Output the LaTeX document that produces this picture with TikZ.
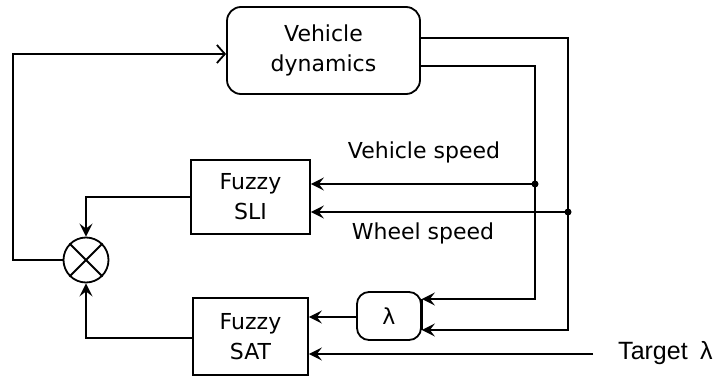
\documentclass[tikz,border=0pt]{standalone}
\usepackage{fontspec}
\setmainfont{DejaVu Sans}
\newfontfamily\tgtfont{Liberation Sans}
\usetikzlibrary{arrows.meta,calc}
\begin{document}
\begin{tikzpicture}[x=1pt,y=-1pt,line width=1.8pt,
  every node/.style={font=\fontsize{22}{30}\selectfont},
  blockbox/.style={draw,rectangle,align=center,inner sep=0pt},
  roundbox/.style={draw,rectangle,rounded corners=14pt,align=center,inner sep=0pt},
  fill arrow/.style={-{Stealth[length=13pt,width=13pt,inset=5pt]}},
  open arrow/.style={-{Straight Barb[length=8pt,width=18pt]}},
  junction/.style={circle,fill,inner sep=0pt,minimum size=7pt}]
\useasboundingbox (0,0) rectangle (719,377);

% blocks
\node[roundbox,minimum width=193pt,minimum height=87pt] (vd) at (323.5,50.5) {Vehicle\\dynamics};
\node[blockbox,minimum width=119pt,minimum height=74pt] (sli) at (250.5,197) {Fuzzy\\SLI};
\node[blockbox,minimum width=115pt,minimum height=77pt] (sat) at (250.5,336.5) {Fuzzy\\SAT};
\node[roundbox,rounded corners=12pt,minimum width=64pt,minimum height=48pt] (lam) at (389,316) {λ};
\node[draw,circle,minimum size=45pt,inner sep=0pt] (mul) at (86,260) {};
\draw (mul.north east) -- (mul.south west) (mul.north west) -- (mul.south east);

% labels
\node (vsl) at (424,152) {Vehicle speed};
\node (wsl) at (423,233) {Wheel speed};
\node[font=\tgtfont\fontsize{25}{30}\selectfont,anchor=west] (tgt) at (614,353) {Target\hspace{0.5em}λ};

% coordinates
\coordinate (o1) at (420,38);
\coordinate (o2) at (420,66);
\coordinate (c1) at (568,38);
\coordinate (c2) at (535,66);
\coordinate (j1) at (568,212);
\coordinate (j2) at (535,184);
\coordinate (l1) at (568,330);
\coordinate (l2) at (535,299);
\coordinate (tg) at (593,354);
\coordinate (fb) at (13,54);

% vehicle dynamics outputs
\draw[fill arrow] (o1) -- (c1) -- (l1) -- (l1 -| lam.east);
\draw[fill arrow] (o2) -- (c2) -- (l2) -- (l2 -| lam.east);
\draw (lam.east |- l2) -- (lam.east |- l1);
\draw[fill arrow] (j1) -- (j1 -| sli.east);
\draw[fill arrow] (j2) -- (j2 -| sli.east);
\node[junction] at (j1) {};
\node[junction] at (j2) {};

% lambda and target into SAT
\draw[fill arrow] (lam.west |- 0,317) -- (sat.east |- 0,317);
\draw[fill arrow] (tg) -- (tg -| sat.east);

% fuzzy outputs to multiplier
\draw[fill arrow] (sli.west) -- (mul.north |- sli.west) -- (mul.north);
\draw[fill arrow] (sat.west |- 0,338) -- (mul.south |- 0,338) -- (mul.south);

% feedback
\draw[open arrow] (mul.west) -- (fb |- mul.west) -- (fb) -- (fb -| vd.west);
\end{tikzpicture}
\end{document}
